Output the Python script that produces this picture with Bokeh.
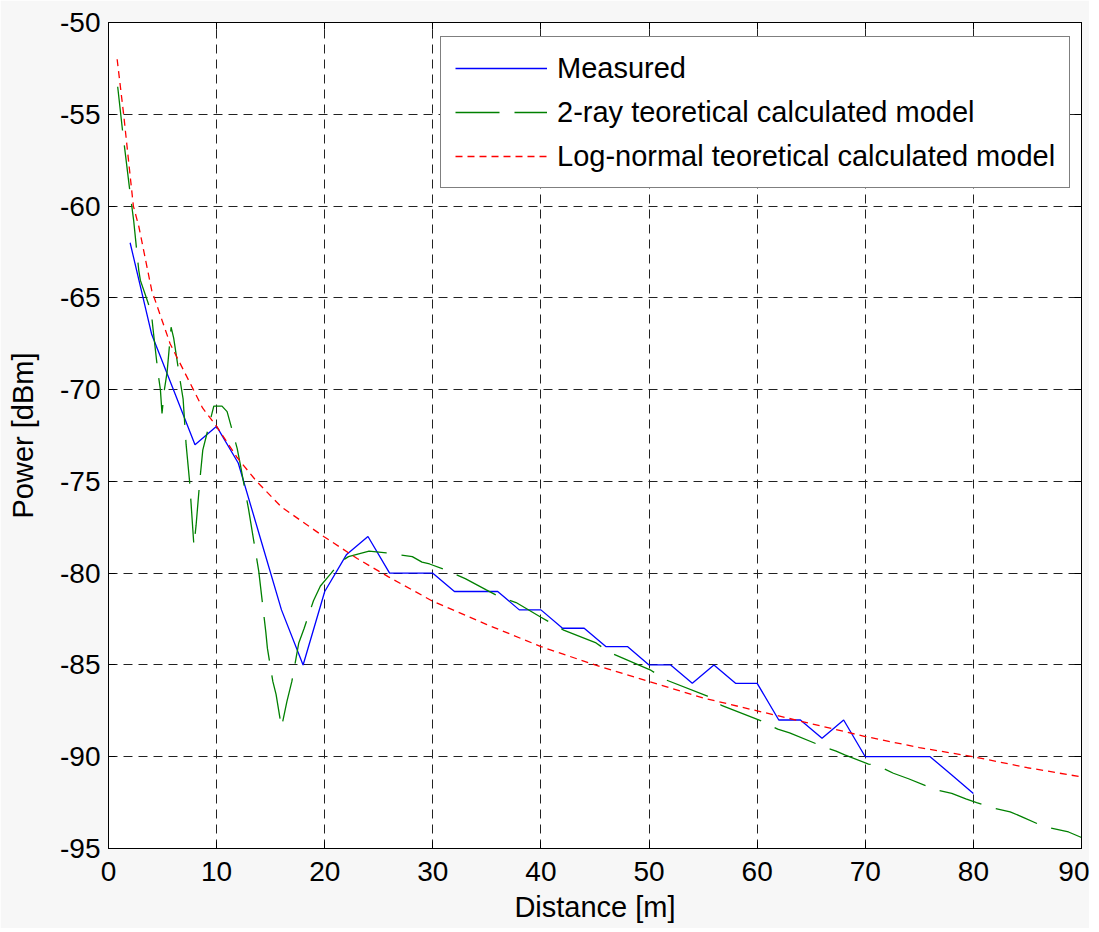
from bokeh.plotting import figure
from bokeh.models import Range1d, LinearAxis, FixedTicker
from bokeh.embed import file_html
from bokeh.resources import INLINE

# ---- data ----
measured_x = [2, 4, 6, 8, 10, 12, 14, 16, 18, 20, 22, 24, 26, 28, 30, 32, 34, 36, 38, 40,
              42, 44, 46, 48, 50, 52, 54, 56, 58, 60, 62, 64, 66, 68, 70, 72, 74, 76, 78, 80]
measured_y = [-62, -67, -70, -73, -72, -74, -78, -82, -85, -81, -79, -78, -80, -80, -80, -81, -81, -81, -82, -82,
              -83, -83, -84, -84, -85, -85, -86, -85, -86, -86, -88, -88, -89, -88, -90, -90, -90, -90, -91, -92]

tworay_x = [0.85, 1.3, 2.0, 2.33, 2.64, 2.8, 2.95, 3.5, 3.96, 4.12, 4.58, 4.8, 4.95, 5.17, 5.42, 5.79,
            6.03, 6.65, 6.9, 7.18, 7.5, 7.9, 8.1, 8.44, 8.72, 9.74, 10.5, 10.97, 11.9, 12.2, 12.95,
            13.2, 13.9, 14.55, 14.7, 15.2, 15.5, 16.0, 16.5, 16.96, 17.6, 18.1, 18.96, 19.6, 20.6,
            21.4, 22.2, 24.1, 25.7, 28.1, 29.0, 29.7, 31.1, 33.0, 34.9, 36.2, 37.7, 40.0, 42.1, 45.1,
            46.3, 50.2, 51.5, 55.4, 56.7, 60.6, 61.9, 63.0, 65.9, 67.3, 68.1, 70.3, 71.2, 72.6, 74.0,
            76.5, 78.0, 79.3, 80.3, 81.9, 83.4, 84.6, 86.5, 88.8, 90.0]
tworay_y = [-53.5, -55.9, -59.3, -60.8, -62.6, -63.5, -64.05, -65.0, -65.8, -66.7, -69.1, -70.0, -71.3, -70.0, -69.05, -66.6,
            -67.2, -69.6, -70.5, -73.0, -75.0, -78.5, -77.4, -75.0, -73.3, -70.9, -70.9, -71.2, -73.2, -74.1, -76.5,
            -77.4, -79.9, -83.2, -84.1, -85.9, -86.6, -88.4, -87.0, -85.9, -83.8, -83.0, -81.5, -80.7, -80.0,
            -79.4, -79.1, -78.8, -78.9, -79.1, -79.4, -79.5, -79.8, -80.3, -80.9, -81.3, -81.6, -82.4, -83.1, -83.8,
            -84.3, -85.3, -85.8, -86.7, -87.2, -88.1, -88.5, -88.7, -89.4, -89.7, -89.9, -90.4, -90.5, -90.9, -91.2,
            -91.8, -92.0, -92.3, -92.5, -92.8, -93.0, -93.3, -93.8, -94.1, -94.4]

lognormal_x = [0.8, 1.4, 2.3, 2.8, 4.0, 5.7, 7.85, 8.7, 10.0, 11.9, 13.7, 16.0, 19.9, 23.0, 25.9, 29.9,
               35.0, 40.0, 45.0, 50.0, 55.0, 60.0, 65.0, 70.0, 75.0, 80.0, 85.0, 90.0]
lognormal_y = [-52.0, -55.0, -60.0, -61.1, -64.6, -67.5, -70.0, -71.0, -72.0, -73.7, -75.0, -76.4, -78.0, -79.2, -80.2, -81.5,
               -82.8, -84.0, -85.0, -85.9, -86.8, -87.5, -88.2, -88.9, -89.5, -90.0, -90.6, -91.1]

x_ticks = [0, 10, 20, 30, 40, 50, 60, 70, 80, 90]
y_ticks = [-95, -90, -85, -80, -75, -70, -65, -60, -55, -50]

FONT = "Liberation Sans"

p = figure(frame_width=973, frame_height=826,
           x_range=Range1d(0, 90), y_range=Range1d(-95, -50),
           output_backend="svg", toolbar_location=None,
           min_border_left=108, min_border_right=8, min_border_top=22, min_border_bottom=80,
           background_fill_color="white", border_fill_color="#f7f7f7",
           outline_line_color="black", outline_line_width=1)

p.line(measured_x, measured_y, line_color="#0000ff", line_width=1.3, legend_label="Measured")
p.line(tworay_x, tworay_y, line_color="#008000", line_width=1.3, line_dash="44 15",
       legend_label="2-ray teoretical calculated model")
p.line(lognormal_x, lognormal_y, line_color="#ff0000", line_width=1.3, line_dash="7 5",
       legend_label="Log-normal teoretical calculated model")

for ax in (p.xaxis[0], p.yaxis[0]):
    ax.major_label_text_font = FONT
    ax.major_label_text_font_size = "28px"
    ax.major_label_text_color = "black"
    ax.axis_label_text_font = FONT
    ax.axis_label_text_font_size = "29px"
    ax.axis_label_text_font_style = "normal"
    ax.axis_label_text_color = "black"
    ax.major_tick_in = 7
    ax.major_tick_out = 0
    ax.minor_tick_in = 0
    ax.minor_tick_out = 0
    ax.axis_line_color = "black"
    ax.major_tick_line_color = "black"

p.xaxis[0].ticker = FixedTicker(ticks=x_ticks)
p.yaxis[0].ticker = FixedTicker(ticks=y_ticks)
p.xaxis[0].major_label_overrides = {t: str(t) for t in x_ticks}
p.yaxis[0].major_label_overrides = {t: str(t) for t in y_ticks}
p.xaxis[0].axis_label = "Distance [m]"
p.yaxis[0].axis_label = "Power [dBm]"
p.xaxis[0].major_label_standoff = 13
p.yaxis[0].major_label_standoff = 8
p.xaxis[0].axis_label_standoff = 7
p.yaxis[0].axis_label_standoff = 18

# box-style ticks on top and right (no labels)
top = LinearAxis(ticker=FixedTicker(ticks=x_ticks))
right = LinearAxis(ticker=FixedTicker(ticks=y_ticks))
for ax in (top, right):
    ax.major_label_text_font_size = "0px"
    ax.major_label_standoff = 0
    ax.major_tick_in = 7
    ax.major_tick_out = 0
    ax.minor_tick_in = 0
    ax.minor_tick_out = 0
    ax.axis_line_color = "black"
    ax.major_tick_line_color = "black"
top.major_label_overrides = {t: "" for t in x_ticks}
right.major_label_overrides = {t: "" for t in y_ticks}
p.add_layout(top, "above")
p.add_layout(right, "right")

for g, tk in ((p.xgrid[0], x_ticks), (p.ygrid[0], y_ticks)):
    g.ticker = FixedTicker(ticks=tk)
    g.grid_line_color = "#222222"
    g.grid_line_dash = "9 6"
    g.grid_line_width = 1

lg = p.legend[0]
lg.location = (332, 660)
lg.margin = 0
lg.padding = 14
lg.spacing = 10
lg.glyph_width = 92
lg.glyph_height = 34
lg.label_height = 34
lg.label_standoff = 10
lg.label_text_font = FONT
lg.label_text_font_size = "29px"
lg.label_text_color = "black"
lg.border_line_color = "black"
lg.border_line_width = 1
lg.background_fill_color = "white"
lg.background_fill_alpha = 1

open("out.html", "w").write(file_html(p, INLINE))
